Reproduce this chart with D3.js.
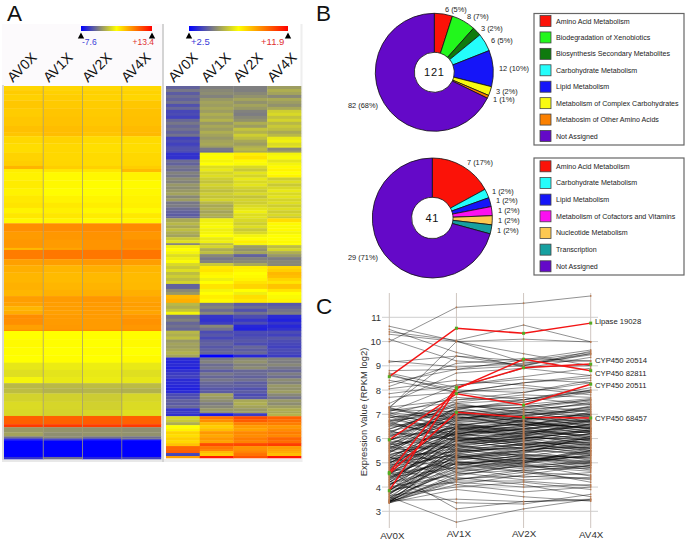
<!DOCTYPE html>
<html><head><meta charset="utf-8">
<script src="https://cdn.jsdelivr.net/npm/d3@7"></script>
<style>html,body{margin:0;padding:0;background:#fff}svg{display:block}text{font-family:"Liberation Sans",Arial,sans-serif}</style>
</head><body><svg id="c" width="685" height="545"></svg>
<script>
const samples = ["AV0X","AV1X","AV2X","AV4X"];
// heatmap A: [rows in band, AV0X, AV1X, AV2X, AV4X]
const heatRowsA = [
[4,4.6,4.6,4.5,4.5],[4,5.0,4.8,4.8,4.7],[6,4.8,4.9,4.7,4.6],[8,5.2,5.1,5.0,5.2],[8,5.0,5.3,5.1,5.4],[9,5.2,5.4,5.2,5.5],
[6,5.5,5.6,5.4,5.7],[4,5.3,5.6,5.3,5.8],[7,4.5,4.7,4.4,4.4],[9,4.3,4.5,4.2,4.3],[8,4.7,4.5,4.4,4.5],[5,4.9,4.6,4.4,4.6],
[3,6.0,4.9,4.8,4.9],[3,3.6,3.9,3.9,5.7],[8,3.4,3.1,3.2,3.4],[8,3.7,3.2,3.0,3.1],[7,3.4,3.0,3.0,3.2],[7,3.8,3.4,3.3,3.4],
[5,4.0,3.8,3.6,3.5],[5,3.4,3.5,3.2,3.1],[5,3.9,3.9,3.7,3.8],[5,3.2,3.3,3.1,3.3],
[8,7.5,7.6,7.7,7.7],[8,7.0,7.2,7.4,7.2],[8,7.2,7.0,7.3,7.6],[2,5.8,6.6,7.3,7.3],[9,8.3,8.5,8.5,8.6],[6,6.8,6.9,7.1,6.9],
[7,6.2,5.9,6.2,5.9],[10,5.9,5.7,5.8,5.7],[7,6.1,5.9,6.0,5.8],[6,5.9,6.1,6.2,6.2],[6,6.9,7.0,7.2,6.7],[4,6.7,6.9,7.0,6.9],
[4,5.9,6.9,7.0,6.8],[4,6.3,6.8,7.0,6.6],[4,7.6,7.0,7.0,7.2],[6,7.5,7.0,7.0,7.4],[5,6.8,7.1,7.0,7.2],[1,7.9,8,8,8],
[8,2.9,2.9,2.9,3.0],[8,3.1,3.0,2.9,3.1],[8,3.0,2.9,3.0,2.9],[7,2.9,3.0,2.9,3.1],[7,1.9,2.1,2.2,2.0],[7,1.6,1.8,2.0,1.6],[6,2.5,2.0,2.1,1.9],
[5,0,0,0.2,0.1],[5,0.2,-0.2,-0.1,-0.3],[8,1.1,1.0,0.8,1.2],[8,1.4,1.2,1.0,1.4],[6,1.3,1.1,1.2,1.6],
[8,9.5,9.4,9.6,9.4],[3,11,11,10.9,11],[5,-1.3,-1.5,-1.6,-1.7],[4,-0.9,-1.7,-1.5,-1.6],[2,-3,-2,-3,-3],[1,-6,-5,-5.5,-3],[1,-7,-5.5,-7.6,-7.6],
[16,-7.6,-7.6,-7.6,-7.6],[2,-5.5,-3,-6,-5]];
// heatmap on the right
const heatRowsB = [
[3,4.3,4.85,4.85,5.4],[3,4.7,5.0,4.85,5.7],[3,4.2,5.1,5.0,5.5],[3,4.5,4.9,5.2,5.0],[3,4.3,5.3,5.5,5.6],[3,4.6,5.5,5.2,5.4],
[3,4.0,5.4,5.5,5.2],[3,4.4,5.6,5.3,5.6],[3,3.8,5.4,4.9,6.3],[3,3.9,5.7,4.8,6.5],[3,3.7,5.5,5.0,6.1],[3,4.4,5.8,5.2,6.4],
[3,4.7,5.3,5.7,5.9],[3,4.4,5.6,5.4,6.2],[3,4.6,5.4,6.1,6.0],[3,4.3,5.7,5.8,5.6],[3,4.6,5.5,6.3,5.9],[3,3.7,5.3,6.0,6.8],
[3,3.9,5.5,5.6,6.9],[3,3.7,5.6,5.4,6.5],[2,3.9,5.4,5.7,6.7],[3,4.0,4.7,5.9,5.0],[2,3.9,4.5,5.6,5.4],
[3,3.4,7.1,7.5,7.0],[4,3.4,7.3,7.7,7.1],[3,4.5,7.0,7.3,6.7],[3,4.3,7.2,7.1,7.0],[3,4.7,6.6,6.5,7.3],[3,4.5,6.8,6.2,7.4],
[3,4.9,6.4,6.7,7.2],[3,4.7,6.6,6.4,7.4],[3,5.1,6.3,6.8,6.3],[3,4.9,6.1,6.5,6.6],[3,5.3,6.4,6.7,6.2],[3,5.1,6.2,6.4,6.5],
[3,5.3,6.0,6.2,6.8],[3,5.5,6.3,6.5,6.5],[3,5.0,6.1,6.1,6.7],[3,5.4,6.4,6.4,6.4],[3,4.7,5.9,6.3,6.6],[3,4.8,5.6,6.5,6.3],
[3,4.5,5.8,6.7,6.6],[3,4.3,5.5,6.9,6.3],[3,4.2,5.7,6.6,6.5],[2,4.4,5.6,6.7,6.2],[4,5.6,6.9,6.5,7.8],[3,5.9,7.0,6.3,7.3],
[3,5.6,7.1,6.6,7.1],[3,6.0,6.9,6.2,7.3],[3,5.7,7.0,6.5,7.0],[3,5.5,7.2,7.0,7.2],[3,6.2,6.8,7.2,7.2],[3,6.6,6.9,7.5,7.3],
[2,5.0,6.0,7.0,7.2],[3,6.9,6.4,5.4,6.0],[3,7.2,5.7,5.2,6.4],[3,7.0,6.0,5.5,5.7],[3,6.6,5.0,4.3,5.3],[3,6.9,4.7,4.9,4.8],
[3,7.1,4.9,5.0,5.0],[3,6.5,6.2,5.6,5.0],[3,6.2,7.6,7.5,7.9],[3,6.6,7.7,7.4,8.1],[3,6,7.4,7.2,8.5],[3,6.3,7.3,7.3,8.4],
[3,6.0,6.9,7.4,8.0],[3,6.4,7.2,7.7,7.7],[5,4.3,7.7,8,8.3],[3,5,7,7.2,7.7],[3,5.3,7.2,6.9,7.2],[4,8.5,7.5,7.8,7.1],[4,8.7,7.3,7.6,7.4],
[3,5.9,4.7,4.2,4.1],[3,5.7,4.9,4.5,4.3],[3,6.1,4.5,4.0,4.6],[3,7.0,5.0,4.6,4.8],[4,4.6,3.5,3.9,3.3],[3,4.9,3.4,3.5,3.1],
[3,4.4,3.6,3.9,3.5],[3,4.6,5.0,3.2,3.2],[3,4.4,4.6,3.1,3.4],[3,5.9,3.9,3.9,3.9],[3,5.7,4.1,3.8,3.7],[3,6.0,3.8,4.0,4.1],
[3,5.3,4.2,4.1,3.9],[3,5.5,4.3,3.9,3.8],[3,5.4,4.1,4.4,3.7],[3,5.6,4.3,4.2,3.9],[3,5.8,4.4,4.4,3.8],[3,5.5,2.5,3.2,3.6],
[3,3.3,4.7,5.0,4.9],[3,3.2,4.9,5.2,4.8],[3,3.3,4.5,4.9,5.0],[3,3.1,4.7,5.1,4.7],[3,3.4,4.2,4.4,4.4],[3,3.6,4.7,4.5,4.8],
[3,3.7,4.4,4.3,4.5],[3,3.3,4.7,4.6,5.1],[3,3.3,4.4,4.2,4.9],[3,3.2,4.3,4.3,5.3],[3,3.1,4.1,4.0,5.2],[3,3.3,4.2,4.2,5.4],
[3,3.9,5.5,3.9,5.0],[3,4.0,5.3,4.1,4.7],[3,4.3,5.1,5.6,5.3],[3,4.2,4.8,5.7,5.1],[3,4.4,5.0,5.5,5.4],[3,3.5,5.3,5.3,5.7],[2,3.6,5.1,5.4,5.6],
[3,3.4,3.0,3.6,5.8],[3,6.4,9.7,10.5,10.1],[3,6.2,9.3,10.2,9.9],[3,5.7,8.5,9.5,9.6],[3,7.2,8.1,9.0,9.1],[3,7.4,8.4,8.9,9.3],
[3,8.0,9.1,9.4,9.6],[3,7.8,8.8,9.3,9.4],[3,8.1,9.1,9.6,10.0],[3,7.9,8.9,9.5,9.9],[3,8.3,10.5,10.6,10.8],[3,10,9.7,9.2,9],[2,10.1,9.5,9.3,8.9],
[2,10.2,8.5,9.5,8.7],[3,3.8,8.2,9.8,8.4],[2,9,11.5,10.4,11.5]];
const rangeA = [-7.6,13.4], rangeB = [2.5,11.9];
const rangeLabelsA = ["-7.6","+13.4"], rangeLabelsB = ["+2.5","+11.9"];

const pie1Names = ["Amino Acid Metabolism","Biodegradation of Xenobiotics","Biosynthesis Secondary Metabolites","Carbohydrate Metabolism","Lipid Metabolism","Metabolism of Complex Carbohydrates","Metabosim of Other Amino Acids","Not Assigned"];
const pie1Values = [6,8,3,6,12,3,1,82];
const pie1Pct = [5,7,2,5,10,2,1,68];
const pie1Colors = ["#fb1208","#22f71c","#0f7a0d","#24fdfb","#1515f8","#f8fa12","#fb8000","#6409c8"];
const pie2Names = ["Amino Acid Metabolism","Carbohydrate Metabolism","Lipid Metabolism","Metabolism of Cofactors and Vitamins","Nucleotide Metabolism","Transcription","Not Assigned"];
const pie2Values = [7,1,1,1,1,1,29];
const pie2Pct = [17,2,2,2,2,2,71];
const pie2Colors = ["#fb1208","#24fdfb","#1515f8","#fb10f0","#fdc850","#16a0a0","#6409c8"];
// hand placed label anchors of the pies (left x, middle y)
const pie1LabelAt = [[445,9.5],[467,16.7],[481,28],[491,40],[499,68],[496,91.5],[493,99],[348,105]];
const pie2LabelAt = [[467,162],[492,191.7],[496,200.7],[498,210.7],[498,220.3],[497,230.3],[348,257.3]];

const yTicks = [3,4,5,6,7,8,9,10,11];
const highlighted = [
 {name:"Lipase 19028", v:[8.55,10.55,10.34,10.76], at:321.7},
 {name:"CYP450 20514", v:[4.6,8.1,8.92,9.07], at:360},
 {name:"CYP450 82811", v:[3.85,8.05,9.27,8.8], at:373},
 {name:"CYP450 20511", v:[5.95,7.85,7.38,8.24], at:385.3},
 {name:"CYP450 68457", v:[4.55,7.08,6.88,6.85], at:418.3}];
const profiles = [
[10.0,11.41,11.58,11.88],[10.63,10.02,9.15,9.2],[10.5,9.55,8.95,9.0],[10.4,10.05,10.68,9.99],[10.3,10.0,10.1,9.98],[10.1,9.2,9.05,9.45],
[9.2,8.95,9.1,9.5],[9.15,9.4,9.2,9.55],[8.8,8.85,9.0,9.6],[8.7,8.1,8.9,9.35],[8.65,7.9,7.6,8.0],[8.6,8.0,7.9,8.3],[8.4,7.9,8.3,8.5],
[8.3,8.85,9.25,9.65],[8.15,9.1,9.3,9.2],[8.05,8.4,8.2,7.9],[7.85,8.2,8.55,8.9],[7.7,7.9,8.3,8.6],[7.45,8.7,8.9,8.6],[7.3,9.4,9.0,9.5],
[7.25,10.0,9.5,9.0],[7.1,8.2,8.45,8.3],[7.3,7.6,7.9,8.4],[7.25,6.8,7.2,7.4],[7.2,7.1,6.7,7.0],[7.15,7.5,7.8,7.7],[7.05,6.4,6.6,6.2],
[7.0,7.7,7.5,7.9],[6.9,6.1,6.4,6.7],[6.85,7.3,7.4,7.1],[6.75,7.0,7.3,7.6],[6.7,5.9,6.1,5.8],[6.6,7.4,7.1,6.9],[6.55,6.7,6.9,7.3],
[6.4,7.2,7.6,8.1],[6.35,5.5,5.8,5.9],[6.3,6.9,6.5,6.8],[6.2,7.6,7.7,7.4],[6.15,6.3,6.7,6.4],[6.05,6.95,7.2,7.0],[6.0,5.2,5.6,5.3],
[5.95,6.6,6.2,6.6],[5.9,7.1,7.3,7.6],[5.85,4.6,5.0,5.5],[5.8,6.5,6.9,6.5],[5.7,7.3,6.8,7.2],[5.65,6.2,6.0,6.3],[5.6,5.7,5.4,6.1],
[5.55,6.8,7.1,6.7],[5.5,4.9,5.2,4.8],[5.45,6.4,6.6,6.9],[5.4,7.0,6.7,6.4],[5.35,5.9,6.3,5.9],[5.3,6.05,5.7,6.2],[5.25,4.3,4.7,4.2],
[5.2,6.6,6.4,6.8],[5.15,5.6,5.9,5.6],[5.1,6.3,6.5,7.1],[5.05,5.3,5.5,5.1],[5.0,6.1,6.2,6.0],[4.95,6.9,6.6,6.3],[4.9,5.5,5.1,5.4],
[4.85,5.8,6.1,6.6],[4.8,4.1,4.5,4.9],[4.75,6.4,6.0,5.7],[4.7,5.4,5.8,5.5],[4.65,3.1,3.4,3.5],[4.6,5.9,5.6,6.1],[4.55,5.0,5.3,5.2],
[4.5,6.2,6.5,6.0],[4.45,5.6,5.2,4.9],[4.4,4.8,4.4,4.6],[4.35,6.0,5.7,5.6],[4.3,5.2,5.5,5.8],[4.25,3.35,3.3,3.7],[4.2,5.7,6.0,6.4],
[4.15,4.95,4.6,4.3],[4.1,5.4,5.0,5.3],[4.05,6.5,6.3,6.5],[4.0,4.5,4.9,5.0],[3.95,5.1,5.4,5.7],[3.9,4.2,4.0,4.1],[3.85,5.6,5.9,6.2],
[3.8,4.6,4.3,4.4],[3.75,5.0,5.1,4.7],[3.7,5.3,4.8,5.1],[3.65,4.0,4.2,3.9],[3.6,2.55,3.1,3.5],[3.55,4.7,5.0,5.6],[3.5,4.4,4.1,3.6],
[3.48,5.2,5.5,5.4],[3.45,3.5,3.4,3.45],[3.42,4.1,3.8,4.0],[3.4,4.9,5.2,5.0],[3.38,4.3,4.6,4.5],[3.36,3.9,3.6,3.42],[3.35,4.55,4.7,4.8],
[6.5,7.9,8.1,7.8],[6.25,7.45,7.05,7.5],[5.75,6.15,6.8,7.0],[5.58,7.25,7.5,8.0],[5.12,6.45,6.05,5.95],[4.78,6.75,6.95,7.25],[4.32,5.85,6.25,6.15],
[6.65,6.05,5.95,6.35],[5.22,4.75,5.15,5.25],[4.92,6.25,5.75,5.35],[4.62,5.25,4.95,4.45],[4.12,4.85,5.35,5.15],[3.72,5.45,5.65,5.85],[6.95,6.55,6.85,6.55],
[5.02,5.75,5.25,5.65],[4.42,5.15,5.45,6.05],[6.1,7.15,6.75,7.35],[5.68,5.05,4.85,4.65],
[7.28,6.55,6.35,6.75],[7.18,6.85,6.95,6.65],[7.08,6.75,7.15,7.45],[6.98,6.2,6.55,6.95],[6.88,7.05,6.65,6.45],[6.78,6.35,6.75,7.05],[6.68,7.2,7.0,7.2],
[6.58,6.15,6.45,6.25],[6.48,6.65,6.25,6.6],[6.38,7.35,7.25,7.55],[6.28,5.95,6.15,5.75],[6.18,6.75,6.55,6.85],[6.08,7.0,6.85,6.7],[5.98,6.45,6.7,6.3],
[5.88,5.75,5.95,5.55],[5.78,6.85,7.05,7.3],[5.72,6.25,6.35,6.1],[5.62,6.5,6.15,6.45],[5.52,5.65,6.05,5.95],[5.42,6.95,6.5,6.75],[5.32,6.2,6.4,6.65],
[5.28,5.45,5.65,5.45],[5.18,6.65,6.85,6.95],[5.08,6.0,5.85,5.75],[4.98,6.55,6.75,6.4],[4.88,5.9,6.3,6.25],[4.82,5.35,5.05,5.45],[4.72,6.3,6.2,6.55],
[4.68,6.1,5.9,6.2],[4.58,5.55,5.75,5.85],[4.52,6.45,6.1,6.35],[4.48,4.95,5.2,5.05],[4.38,5.75,6.15,6.75],[4.28,6.05,5.8,5.5],[4.22,5.3,4.9,4.75],
[4.18,6.35,6.6,6.45],[4.08,5.5,5.6,5.95],[4.02,5.95,5.55,5.65],[3.92,4.75,5.05,5.3],[3.88,5.25,5.35,5.2],[3.82,6.1,6.4,6.05],[3.78,5.05,4.75,5.0],
[3.68,5.8,6.0,6.3],[3.62,5.15,5.25,4.95],[3.58,4.65,4.85,4.85],[3.52,5.7,5.5,5.75],[3.46,4.35,4.45,4.35],[3.44,5.35,5.75,6.0],[3.41,4.8,5.1,5.5],
[3.39,5.0,4.65,4.9],[3.37,4.45,4.95,5.35],[3.36,5.55,5.3,5.05],[3.34,4.25,4.25,4.05],[5.92,7.25,7.4,7.65],[6.72,7.45,7.6,7.95],[5.48,7.1,6.95,7.15]];

const svg = d3.select("#c");

function heatColor(domain){
  return d3.scaleLinear().domain([domain[0],(domain[0]+domain[1])/2,domain[1]]).range(["#0000ff","#ffff00","#ff0000"]);
}
function heatmap(opt){
  const g = svg.append("g");
  const color = heatColor(opt.range);
  const total = d3.sum(opt.rows,r=>r[0]);
  const x = d3.scaleBand().domain(samples).range(opt.x);
  const y = d3.scaleLinear().domain([0,total]).range(opt.y);
  let acc = 0;
  const cum = opt.rows.map(r=>{const s=acc;acc+=r[0];return s;});
  samples.forEach((s,i)=>{
    g.append("g").selectAll("rect").data(opt.rows).join("rect")
      .attr("x",x(s)).attr("width",x.bandwidth()+0.3)
      .attr("y",(r,j)=>y(cum[j])).attr("height",r=>y(r[0])-y(0)+0.3)
      .attr("fill",r=>color(r[i+1]));
  });
  if(opt.separators){
    samples.slice(1).forEach(s=>g.append("line").attr("x1",x(s)).attr("x2",x(s)).attr("y1",opt.y[0]).attr("y2",opt.y[1]).attr("stroke","#a09a70").attr("stroke-opacity",.75).attr("stroke-width",1));
  }
  // colour bar
  const id = "grad"+opt.id;
  const grad = svg.append("linearGradient").attr("id",id);
  [0,.5,1].forEach((t,i)=>grad.append("stop").attr("offset",t).attr("stop-color",["#0000ff","#ffff00","#ff0000"][i]));
  g.append("rect").attr("x",opt.bar[0]).attr("width",opt.bar[1]-opt.bar[0]).attr("y",26).attr("height",5).attr("fill",`url(#${id})`);
  opt.bar.forEach(b=>g.append("path").attr("d",`M${b},32.5l3.2,6h-6.4z`).attr("fill","#000"));
  g.append("text").attr("x",opt.lab[0]).attr("y",45).attr("font-size",opt.labSize).attr("fill","#3b3bd8").text(opt.labels[0]);
  g.append("text").attr("x",opt.lab[1]).attr("y",45).attr("font-size",opt.labSize).attr("fill","#e03030").text(opt.labels[1]);
  samples.forEach((s,i)=>g.append("text").attr("transform",`translate(${opt.colLab[i]},83) rotate(-45)`).attr("font-size",14).attr("fill","#111").text(s));
}
// panel frames
svg.append("rect").attr("x",2).attr("y",24).attr("width",160).attr("height",438).attr("fill","#fcfafc");
svg.append("rect").attr("x",162).attr("y",24).attr("width",2).attr("height",438).attr("fill","#d4d4d4");
svg.append("rect").attr("x",2).attr("y",459).attr("width",160).attr("height",3).attr("fill","#e8e8e8");
svg.append("rect").attr("x",2).attr("y",85).attr("width",2).attr("height",375).attr("fill","#d8d8d8");
svg.append("rect").attr("x",300.5).attr("y",24).attr("width",2).attr("height",438).attr("fill","#eeeeee");
svg.append("rect").attr("x",164).attr("y",459).attr("width",138).attr("height",3).attr("fill","#eeeeee");

heatmap({id:"A",rows:heatRowsA,range:rangeA,labels:rangeLabelsA,x:[4,161],y:[86,459],separators:true,bar:[81,152],lab:[82,132.5],labSize:8.5,colLab:[13,49,88,127]});
heatmap({id:"B",rows:heatRowsB,range:rangeB,labels:rangeLabelsB,x:[166,301],y:[86,458],separators:false,bar:[189,288],lab:[191,261],labSize:9.5,colLab:[174,207,239,273]});

// panel letters
[["A",7,21],["B",316,20.5],["C",316,314]].forEach(d=>svg.append("text").attr("x",d[1]).attr("y",d[2]).attr("font-size",22.5).attr("fill","#111").text(d[0]));

function pie(opt){
  const g = svg.append("g").attr("transform",`translate(${opt.cx},${opt.cy})`);
  const arcs = d3.pie().sort(null)(opt.values);
  const arc = d3.arc().innerRadius(opt.inner).outerRadius(opt.outer);
  g.selectAll("path").data(arcs).join("path").attr("d",arc).attr("fill",(d,i)=>opt.colors[i]).attr("stroke","#111").attr("stroke-width",.8);
  g.append("text").attr("text-anchor","middle").attr("dy","0.36em").attr("font-size",11).attr("letter-spacing",.7).attr("fill","#111").text(d3.sum(opt.values));
  svg.append("g").selectAll("text").data(opt.values).join("text")
    .attr("x",(d,i)=>opt.labelAt[i][0]).attr("y",(d,i)=>opt.labelAt[i][1]).attr("dy","0.35em")
    .attr("font-size",7.4).attr("fill","#222").text((d,i)=>`${d} (${opt.pct[i]}%)`);
  const lg = svg.append("g");
  lg.append("rect").attr("x",534).attr("y",opt.box[0]).attr("width",150).attr("height",opt.box[1]-opt.box[0]).attr("fill","#fff").attr("stroke","#666").attr("stroke-width",1.2);
  const ly = d3.scalePoint().domain(opt.names).range(opt.items);
  const row = lg.selectAll("g").data(opt.names).join("g").attr("transform",d=>`translate(0,${ly(d)})`);
  row.append("rect").attr("x",540).attr("y",-5.5).attr("width",11).attr("height",11).attr("fill",(d,i)=>opt.colors[i]).attr("stroke","#444").attr("stroke-width",.8);
  row.append("text").attr("x",556).attr("dy","0.35em").attr("font-size",7.1).attr("fill","#222").text(d=>d);
}
pie({cx:434.3,cy:72.3,inner:20,outer:59,values:pie1Values,pct:pie1Pct,colors:pie1Colors,names:pie1Names,labelAt:pie1LabelAt,box:[13.5,145],items:[21,136]});
pie({cx:432.3,cy:218,inner:20.7,outer:60,values:pie2Values,pct:pie2Pct,colors:pie2Colors,names:pie2Names,labelAt:pie2LabelAt,box:[158,275],items:[166.3,266.3]});

// panel C
const px = d3.scalePoint().domain(samples).range([389.3,590.7]);
const py = d3.scaleLinear().domain([3,11]).range([511.3,317.3]);
const cg = svg.append("g");
const yAxis = d3.axisLeft(py).tickValues(yTicks).tickSize(0).tickPadding(1).tickFormat(d3.format("d"));
const ya = cg.append("g").attr("transform","translate(382,0)").call(yAxis);
ya.select(".domain").remove();
ya.selectAll("text").attr("font-size",9.5).attr("fill","#333");
cg.append("g").selectAll("line").data(yTicks).join("line").attr("x1",382).attr("x2",598).attr("y1",d=>py(d)).attr("y2",d=>py(d)).attr("stroke","#c9c9c9").attr("stroke-width",.9);
cg.append("g").selectAll("line").data(samples).join("line").attr("x1",d=>px(d)).attr("x2",d=>px(d)).attr("y1",293).attr("y2",528).attr("stroke","#cfc6c0").attr("stroke-width",1);
const xAxis = d3.axisBottom(px).tickSize(0).tickPadding(0);
const xa = cg.append("g").attr("transform","translate(0,531)").call(xAxis);
xa.select(".domain").remove();
xa.selectAll("text").attr("font-size",9.8).attr("fill","#333").attr("dx",(d,i)=>[2.5,2,0,0][i]).attr("dy",(d,i)=>[8,6,6,7][i]);
cg.append("text").attr("transform","translate(364,412) rotate(-90)").attr("text-anchor","middle").attr("dy","0.35em").attr("font-size",9.4).attr("fill","#333").text("Expression Value (RPKM log2)");

const line = d3.line().x((d,i)=>px(samples[i])).y(d=>py(d));
cg.append("g").selectAll("path").data(profiles).join("path").attr("d",line).attr("fill","none").attr("stroke","#000").attr("stroke-width",.6).attr("stroke-opacity",.72);
// brown marks where each profile crosses an axis
const marks = profiles.flatMap(p=>p.map((v,i)=>({v,s:samples[i]})));
cg.append("g").selectAll("rect").data(marks).join("rect").attr("x",d=>px(d.s)-.7).attr("y",d=>py(d.v)-.8).attr("width",1.4).attr("height",1.6).attr("fill","#b87a50");
cg.append("g").selectAll("path").data(highlighted).join("path").attr("d",d=>line(d.v)).attr("fill","none").attr("stroke","#f31414").attr("stroke-width",1.5);
const gmarks = highlighted.flatMap(p=>p.v.map((v,i)=>({v,s:samples[i]})));
cg.append("g").selectAll("rect").data(gmarks).join("rect").attr("x",d=>px(d.s)-1.5).attr("y",d=>py(d.v)-1.5).attr("width",3).attr("height",3).attr("fill","#55aa22");
cg.append("g").selectAll("text").data(highlighted).join("text").attr("x",595).attr("y",d=>d.at).attr("dy","0.35em").attr("font-size",7.7).attr("fill","#222").text(d=>d.name);
</script></body></html>
